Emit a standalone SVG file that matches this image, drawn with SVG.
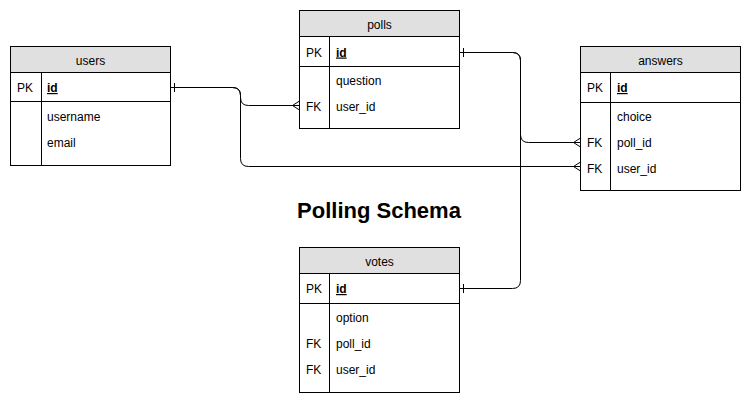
<svg xmlns="http://www.w3.org/2000/svg" width="751" height="402" viewBox="0 0 751 402">
<style>
text{font-family:"Liberation Sans",Arial,sans-serif;font-size:12px;fill:#000}
.hd{fill:#e0e0e0;stroke:#000;stroke-width:1}
.bx{fill:#fff;stroke:#000;stroke-width:1}
.ln{stroke:#000;stroke-width:1;fill:none}
.c{text-anchor:middle}
.pk{font-weight:bold;text-decoration:underline}
.title{font-size:22px;font-weight:bold;text-anchor:middle}
</style>
<defs>
<marker id="one" markerUnits="userSpaceOnUse" markerWidth="12" markerHeight="12" refX="0" refY="6" orient="auto" viewBox="0 0 12 12">
<path d="M4,1.5 V10.5" stroke="#000" stroke-width="1" fill="none"/>
</marker>
<marker id="many" markerUnits="userSpaceOnUse" markerWidth="12" markerHeight="12" refX="12" refY="6" orient="auto" viewBox="0 0 12 12">
<path d="M12,1.5 L5,6 L12,10.5" stroke="#000" stroke-width="1" fill="none"/>
</marker>
</defs>
<rect width="751" height="402" fill="#fff"/>
<g id="users">
<rect class="bx" x="10.5" y="46.5" width="160" height="119"/>
<rect class="hd" x="10.5" y="46.5" width="160" height="26"/>
<line class="ln" x1="10.5" y1="101.5" x2="170.5" y2="101.5"/>
<line class="ln" x1="41.5" y1="72.5" x2="41.5" y2="165.5"/>
<text class="c" x="90.5" y="65">users</text>
<text x="17" y="92">PK</text>
<text class="pk" x="47" y="92">id</text>
<text x="47" y="121">username</text>
<text x="47" y="147">email</text>
</g>
<g id="polls">
<rect class="bx" x="299.5" y="10.5" width="160" height="118"/>
<rect class="hd" x="299.5" y="10.5" width="160" height="26"/>
<line class="ln" x1="299.5" y1="66.5" x2="459.5" y2="66.5"/>
<line class="ln" x1="329.5" y1="36.5" x2="329.5" y2="128.5"/>
<text class="c" x="379.5" y="29">polls</text>
<text x="306" y="56.5">PK</text>
<text class="pk" x="336" y="56.5">id</text>
<text x="336" y="85">question</text>
<text x="306" y="111">FK</text>
<text x="336" y="111">user_id</text>
</g>
<g id="answers">
<rect class="bx" x="580.5" y="46.5" width="160" height="144"/>
<rect class="hd" x="580.5" y="46.5" width="160" height="26"/>
<line class="ln" x1="580.5" y1="102.5" x2="740.5" y2="102.5"/>
<line class="ln" x1="610.5" y1="72.5" x2="610.5" y2="190.5"/>
<text class="c" x="660.5" y="65">answers</text>
<text x="587" y="92">PK</text>
<text class="pk" x="617" y="92">id</text>
<text x="617" y="121">choice</text>
<text x="587" y="147">FK</text>
<text x="617" y="147">poll_id</text>
<text x="587" y="173">FK</text>
<text x="617" y="173">user_id</text>
</g>
<g id="votes">
<rect class="bx" x="299.5" y="247.5" width="160" height="145"/>
<rect class="hd" x="299.5" y="247.5" width="160" height="26"/>
<line class="ln" x1="299.5" y1="303.5" x2="459.5" y2="303.5"/>
<line class="ln" x1="329.5" y1="273.5" x2="329.5" y2="392.5"/>
<text class="c" x="379.5" y="266">votes</text>
<text x="306" y="293">PK</text>
<text class="pk" x="336" y="293">id</text>
<text x="336" y="322">option</text>
<text x="306" y="348">FK</text>
<text x="336" y="348">poll_id</text>
<text x="306" y="374">FK</text>
<text x="336" y="374">user_id</text>
</g>
<g id="connectors">
<path class="ln" d="M170.5,87.5 H232.5 Q240.5,87.5 240.5,95.5 V97.5 Q240.5,105.5 248.5,105.5 H299.5" marker-start="url(#one)" marker-end="url(#many)"/>
<path class="ln" d="M170.5,87.5 H232.5 Q240.5,87.5 240.5,95.5 V158.5 Q240.5,166.5 248.5,166.5 H580.5" marker-start="url(#one)" marker-end="url(#many)"/>
<path class="ln" d="M459.5,52.5 H512.5 Q520.5,52.5 520.5,60.5 V134.5 Q520.5,142.5 528.5,142.5 H580.5" marker-start="url(#one)" marker-end="url(#many)"/>
<path class="ln" d="M459.5,288.5 H512.5 Q520.5,288.5 520.5,280.5 V60.5 Q520.5,52.5 512.5,52.5 H459.5" marker-start="url(#one)"/>
</g>
<g id="title">
<text class="title" x="379" y="218">Polling Schema</text>
</g>
</svg>
